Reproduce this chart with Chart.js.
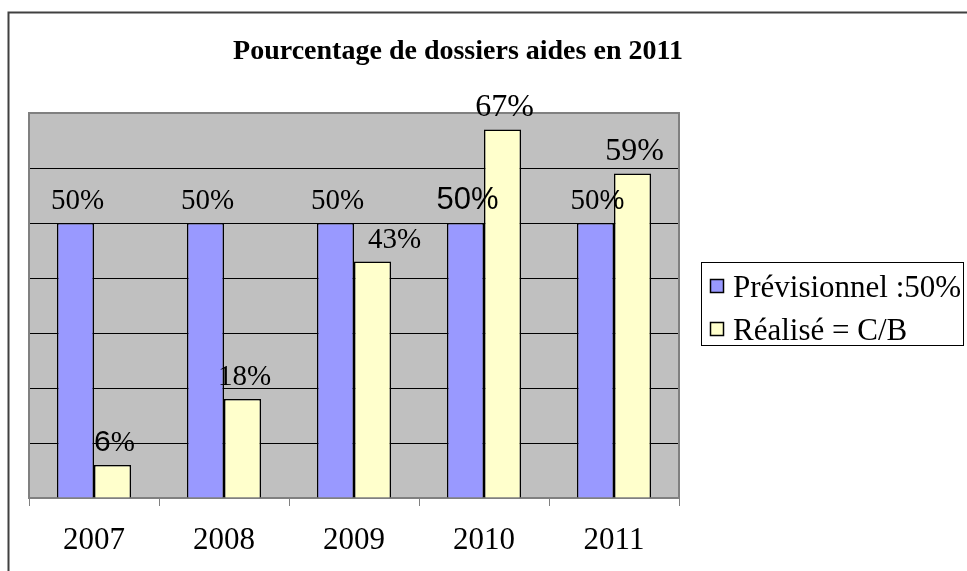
<!DOCTYPE html>
<html>
<head>
<meta charset="utf-8">
<script src="https://cdn.jsdelivr.net/npm/chart.js@4/dist/chart.umd.min.js"></script>
<style>
html,body{margin:0;padding:0;background:#fff;}
canvas{display:block;}
</style>
</head>
<body>
<canvas id="c" width="967" height="571"></canvas>
<script>
// ---- data ----
const chartTitle = 'Pourcentage de dossiers aides en 2011';
const categories = ['2007', '2008', '2009', '2010', '2011'];
const seriesNames = ['Prévisionnel :50%', 'Réalisé = C/B'];
const previsionnel = [50, 50, 50, 50, 50];
const realise = [6, 18, 43, 67, 59];
const yMax = 70;
const yStep = 10;

// ---- styles ----
const SERIF = '"Liberation Serif", "Times New Roman", serif';
const SANS = '"Liberation Sans", Arial, sans-serif';
const colors = ['#9999FF', '#FFFFCC'];
// font overrides for [number part, percent sign] of some labels (key: dataset-index)
const labelFontMix = {
  '1-0': [[SANS, 30], [SERIF, 29]],
  '0-3': [[SANS, 31], [SANS, 31]],
  '0-4': [[SERIF, 29], [SANS, 28]],
  '1-3': [[SERIF, 32], [SERIF, 32]],
  '1-4': [[SERIF, 32], [SERIF, 32]]
};
// manual horizontal label shifts (key: dataset-index)
const labelShift = {'1-2': 20};

const decorPlugin = {
  id: 'decor',
  beforeDraw(chart) {
    const {ctx, chartArea: a} = chart;
    ctx.save();
    ctx.fillStyle = '#C0C0C0';
    ctx.fillRect(a.left, a.top, a.right - a.left, a.bottom - a.top);
    ctx.restore();
  },
  beforeDatasetsDraw(chart) {
    const {ctx, chartArea: a} = chart;
    ctx.save();
    ctx.strokeStyle = '#808080';
    ctx.lineWidth = 2;
    ctx.strokeRect(a.left, a.top, a.right - a.left, a.bottom - a.top);
    ctx.restore();
  },
  afterDatasetsDraw(chart) {
    const {ctx} = chart;
    ctx.save();
    ctx.fillStyle = '#000';
    ctx.textBaseline = 'alphabetic';
    chart.data.datasets.forEach((ds, di) => {
      const meta = chart.getDatasetMeta(di);
      meta.data.forEach((bar, i) => {
        const key = di + '-' + i;
        const txt = String(ds.data[i]);
        const mix = labelFontMix[key] || [[SERIF, 29], [SERIF, 29]];
        const parts = [[txt, mix[0]], ['%', mix[1]]];
        let total = 0;
        const widths = parts.map(p => {
          ctx.font = p[1][1] + 'px ' + p[1][0];
          const w = ctx.measureText(p[0]).width;
          total += w;
          return w;
        });
        let x = bar.x + 2 + (labelShift[key] || 0) - total / 2;
        const y = bar.y - 14;
        ctx.textAlign = 'left';
        parts.forEach((p, k) => {
          ctx.font = p[1][1] + 'px ' + p[1][0];
          ctx.fillText(p[0], x, y);
          x += widths[k];
        });
      });
    });
    ctx.restore();
  },
  afterDraw(chart) {
    const {ctx} = chart;
    ctx.save();
    // outer frame (top & left visible)
    ctx.strokeStyle = '#404040';
    ctx.lineWidth = 2;
    ctx.beginPath();
    ctx.moveTo(8.5, 580);
    ctx.lineTo(8.5, 12.5);
    ctx.lineTo(980, 12.5);
    ctx.stroke();
    // title
    ctx.fillStyle = '#000';
    ctx.font = 'bold 28px ' + SERIF;
    ctx.textAlign = 'center';
    ctx.textBaseline = 'alphabetic';
    ctx.fillText(chartTitle, 458, 59);
    // legend
    ctx.strokeStyle = '#000';
    ctx.lineWidth = 1;
    ctx.strokeRect(701.5, 262.5, 262, 83);
    ctx.font = '31px ' + SERIF;
    ctx.textAlign = 'left';
    const ys = [297, 340];
    seriesNames.forEach((name, k) => {
      ctx.fillStyle = colors[k];
      ctx.fillRect(710.5, ys[k] - 17.5, 13, 13);
      ctx.strokeStyle = '#000';
      ctx.lineWidth = 1.5;
      ctx.strokeRect(710.5, ys[k] - 17.5, 13, 13);
      ctx.fillStyle = '#000';
      ctx.fillText(name, 733, ys[k]);
    });
    ctx.restore();
  }
};

new Chart(document.getElementById('c'), {
  type: 'bar',
  data: {
    labels: categories,
    datasets: [
      {label: seriesNames[0], data: previsionnel, backgroundColor: colors[0], borderColor: '#000', borderWidth: 1.5},
      {label: seriesNames[1], data: realise, backgroundColor: colors[1], borderColor: '#000', borderWidth: 1.5}
    ]
  },
  options: {
    responsive: false,
    animation: false,
    devicePixelRatio: 1,
    layout: {padding: {left: 29, right: 288, top: 113, bottom: 0}},
    datasets: {bar: {categoryPercentage: 0.57, barPercentage: 1.0}},
    plugins: {legend: {display: false}, title: {display: false}, tooltip: {enabled: false}},
    scales: {
      x: {
        grid: {display: true, drawOnChartArea: false, drawTicks: true, tickLength: 8, color: '#808080', lineWidth: 1, offset: true},
        border: {display: false},
        ticks: {color: '#000', font: {family: SERIF, size: 31}, padding: 16},
        afterFit: s => { s.height = 73; }
      },
      y: {
        min: 0,
        max: yMax,
        ticks: {display: false, stepSize: yStep},
        grid: {color: '#000', lineWidth: 1, drawTicks: false},
        border: {display: false},
        afterFit: s => { s.width = 0; }
      }
    }
  },
  plugins: [decorPlugin]
});
</script>
</body>
</html>
